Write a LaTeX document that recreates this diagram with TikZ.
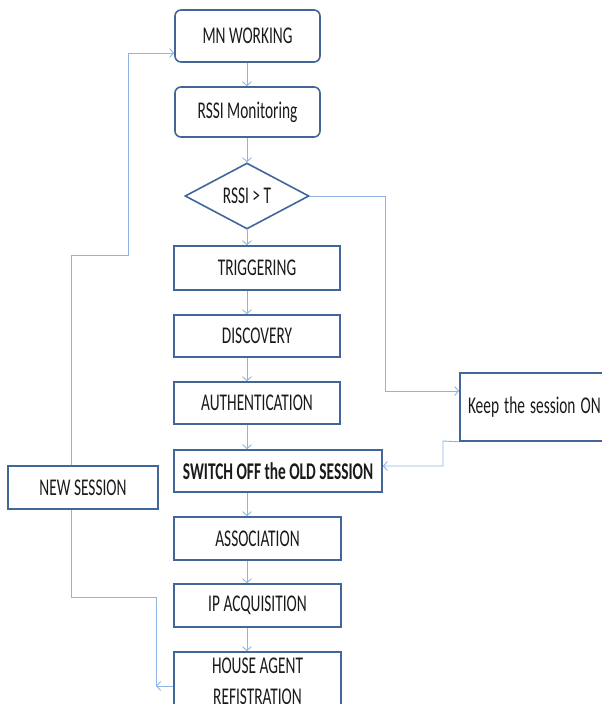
\documentclass[tikz,border=0pt]{standalone}
\usepackage{fontspec}
\setmainfont{Carlito}
\usetikzlibrary{shapes.geometric,arrows.meta}
\definecolor{boxc}{HTML}{41669A}
\definecolor{arrc}{HTML}{8EB4E3}
\definecolor{txtc}{HTML}{1A1A1A}
\newcommand\tx[1]{\scalebox{0.64}[1]{#1}}
\begin{document}
\begin{tikzpicture}[x=1pt,y=-1pt,
  base/.style={draw=boxc,line width=1.6pt,text=txtc,inner sep=0pt,
    font=\fontsize{24}{33}\selectfont,align=center},
  rbox/.style={base,rounded corners=6pt,rectangle},
  sbox/.style={base,rectangle},
  dbox/.style={base,diamond,aspect=1.88},
  arr/.style={draw=arrc,line width=0.9pt,-{Straight Barb[length=4pt,width=9pt]}},
  ln/.style={draw=arrc,line width=0.9pt}]
\useasboundingbox (0,0) rectangle (602,704);
\node[rbox,minimum width=145pt,minimum height=52pt] (mn) at (247.5,36) {\tx{MN WORKING}};
\node[rbox,minimum width=145pt,minimum height=50pt] (rssi) at (247.5,112) {\tx{RSSI Monitoring}};
\node[dbox,minimum width=124pt,minimum height=66pt] (dia) at (247,196) {\tx{RSSI > T}};
\node[sbox,minimum width=166pt,minimum height=44pt] (trig) at (257,268) {\tx{TRIGGERING}};
\node[sbox,minimum width=166pt,minimum height=42pt] (disc) at (257,336) {\tx{DISCOVERY}};
\node[sbox,minimum width=166pt,minimum height=42pt] (auth) at (257,403) {\tx{AUTHENTICATION}};
\node[sbox,minimum width=208pt,minimum height=42pt,font=\fontsize{24}{33}\selectfont\bfseries] (sw) at (278,471) {\tx{SWITCH OFF the OLD SESSION}};
\node[sbox,minimum width=167pt,minimum height=43pt] (assoc) at (257.5,538.5) {\tx{ASSOCIATION}};
\node[sbox,minimum width=167pt,minimum height=43pt] (ip) at (257.5,605.5) {\tx{IP ACQUISITION}};
\node[sbox,minimum width=167pt,minimum height=58pt] (ha) at (257.5,681) {\tx{HOUSE AGENT}\\[-2pt]\tx{REFISTRATION}};
\node[sbox,minimum width=150pt,minimum height=43pt] (ns) at (83,487.5) {\tx{NEW SESSION}};
\node[sbox,minimum width=150pt,minimum height=68pt,text width=134pt,align=left] (keep) at (535,407) {\tx{Keep the session ON}};
% main column
\draw[arr] (mn.south -| dia) -- (rssi.north -| dia);
\draw[arr] (rssi.south -| dia) -- (dia.north);
\draw[arr] (dia.south) -- (trig.north -| dia);
\draw[arr] (trig.south -| dia) -- (disc.north -| dia);
\draw[arr] (disc.south -| dia) -- (auth.north -| dia);
\draw[arr] (auth.south -| dia) -- (sw.north -| dia);
\draw[arr] (sw.south -| dia) -- (assoc.north -| dia);
\draw[arr] (assoc.south -| dia) -- (ip.north -| dia);
\draw[arr] (ip.south -| dia) -- (ha.north -| dia);
% decision branch
\draw[arr] (dia.east) -- (385,196) -- (385,391) -- ([yshift=16pt]keep.west);
\draw[arr] (keep.south west) -- (443,441) -- (443,466) -- ([yshift=5pt]sw.east);
% new session loop
\draw[arr] ([xshift=-12pt]ns.north) -- (71,255) -- (128,255) -- (128,53) -- ([yshift=-17pt]mn.west);
\coordinate (hc) at (156,686);
\draw[ln] ([xshift=-12pt]ns.south) -- (71,597) -- (156,597) -- (hc);
\draw[arr] ([yshift=-5pt]ha.west) -- (hc);
\end{tikzpicture}
\end{document}
